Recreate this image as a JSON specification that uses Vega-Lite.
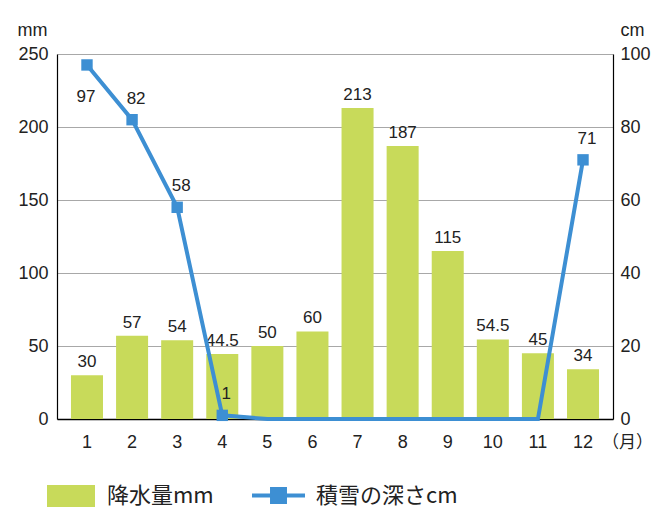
{
  "$schema": "https://vega.github.io/schema/vega-lite/v6.json",
  "width": 556,
  "height": 365,
  "autosize": "none",
  "padding": {"left": 57, "top": 54, "right": 54, "bottom": 98},
  "background": "white",
  "config": {
    "view": {"stroke": null},
    "font": "Liberation Sans",
    "axis": {"labelFont": "Liberation Sans", "labelFontSize": 18, "labelColor": "#222", "titleFont": "Liberation Sans", "titleColor": "#222", "titleFontWeight": "normal", "titleFontSize": 18}
  },
  "data": {
    "values": [
      {"month": 1, "rain": 30, "snow": 97},
      {"month": 2, "rain": 57, "snow": 82},
      {"month": 3, "rain": 54, "snow": 58},
      {"month": 4, "rain": 44.5, "snow": 1},
      {"month": 5, "rain": 50, "snow": 0},
      {"month": 6, "rain": 60, "snow": 0},
      {"month": 7, "rain": 213, "snow": 0},
      {"month": 8, "rain": 187, "snow": 0},
      {"month": 9, "rain": 115, "snow": 0},
      {"month": 10, "rain": 54.5, "snow": 0},
      {"month": 11, "rain": 45, "snow": 0},
      {"month": 12, "rain": 34, "snow": 71}
    ]
  },
  "resolve": {"scale": {"y": "independent"}},
  "layer": [
    {
      "layer": [
        {
          "mark": {"type": "bar"},
          "encoding": {
            "x": {"field": "month", "type": "ordinal", "scale": {"paddingInner": 0.29, "paddingOuter": 0.31},
              "axis": {"labelAngle": 0, "ticks": false, "labelPadding": 14, "labelBaseline": "top", "labelFontSize": 18, "domainColor": "#000", "domainWidth": 1.5, "grid": false,
                "title": "（月）", "titleFont": "Noto Sans CJK JP", "titleFontSize": 17, "titleAngle": 0, "titleX": 570, "titleY": 23, "titleAlign": "center", "titleBaseline": "middle"}},
            "y": {"field": "rain", "type": "quantitative", "scale": {"domain": [0, 250], "nice": false},
              "axis": {"values": [0, 50, 100, 150, 200, 250], "ticks": false, "labelPadding": 9, "labelFontSize": 18, "domainColor": "#000", "domainWidth": 1.2, "grid": true, "gridColor": "#a8a8a8", "gridWidth": 1,
                "title": "mm", "titleAngle": 0, "titleX": -25, "titleY": -24, "titleAlign": "center", "titleBaseline": "middle"}},
            "fill": {"datum": "降水量mm", "type": "nominal", "scale": {"range": ["#c8da5a"]},
              "legend": {"orient": "none", "legendX": -10, "legendY": 418, "title": null, "symbolType": "M-1,-0.46H1V0.46H-1Z", "symbolSize": 2304, "symbolStrokeWidth": 0, "labelFont": "Noto Sans CJK JP", "labelFontSize": 22, "labelColor": "#222", "labelOffset": 12, "padding": 0}}
          }
        },
        {
          "mark": {"type": "text", "baseline": "bottom", "dy": -4, "fontSize": 17, "color": "#222"},
          "encoding": {
            "x": {"field": "month", "type": "ordinal"},
            "y": {"field": "rain", "type": "quantitative"},
            "text": {"field": "rain", "type": "quantitative"}
          }
        }
      ]
    },
    {
      "layer": [
        {
          "mark": {"type": "line", "strokeWidth": 4, "color": "#3d8fd3"},
          "encoding": {
            "x": {"field": "month", "type": "ordinal"},
            "y": {"field": "snow", "type": "quantitative", "scale": {"domain": [0, 100], "nice": false},
              "axis": {"orient": "right", "values": [0, 20, 40, 60, 80, 100], "ticks": false, "labelPadding": 7, "labelFontSize": 18, "domainColor": "#000", "domainWidth": 1.2, "grid": false,
                "title": "cm", "titleAngle": 0, "titleX": 19, "titleY": -24, "titleAlign": "center", "titleBaseline": "middle"}},
            "stroke": {"datum": "積雪の深さcm", "type": "nominal", "scale": {"range": ["#3d8fd3"]},
              "legend": {"orient": "none", "legendX": 195, "legendY": 415, "title": null, "symbolType": "M-1,-0.075H1V0.075H-1Z M-0.32,-0.32H0.32V0.32H-0.32Z", "symbolSize": 2809, "symbolStrokeWidth": 0, "symbolFillColor": "#3d8fd3", "labelFont": "Noto Sans CJK JP", "labelFontSize": 22, "labelColor": "#222", "labelOffset": 11, "padding": 0,
                "encode": {"symbols": {"update": {"fill": {"value": "#3d8fd3"}, "strokeWidth": {"value": 0}}}}}}
          }
        },
        {
          "transform": [{"filter": "datum.snow > 0"}],
          "mark": {"type": "square", "size": 130, "filled": true, "color": "#3d8fd3", "opacity": 1},
          "encoding": {
            "x": {"field": "month", "type": "ordinal"},
            "y": {"field": "snow", "type": "quantitative"}
          }
        },
        {
          "transform": [{"filter": "datum.snow > 0 && datum.month != 1"}],
          "mark": {"type": "text", "baseline": "bottom", "dy": -12, "dx": 4, "fontSize": 17, "color": "#222"},
          "encoding": {
            "x": {"field": "month", "type": "ordinal"},
            "y": {"field": "snow", "type": "quantitative"},
            "text": {"field": "snow", "type": "quantitative"}
          }
        },
        {
          "transform": [{"filter": "datum.month == 1"}],
          "mark": {"type": "text", "baseline": "middle", "dy": 32, "dx": -1, "fontSize": 17, "color": "#222"},
          "encoding": {
            "x": {"field": "month", "type": "ordinal"},
            "y": {"field": "snow", "type": "quantitative"},
            "text": {"field": "snow", "type": "quantitative"}
          }
        }
      ]
    }
  ]
}
